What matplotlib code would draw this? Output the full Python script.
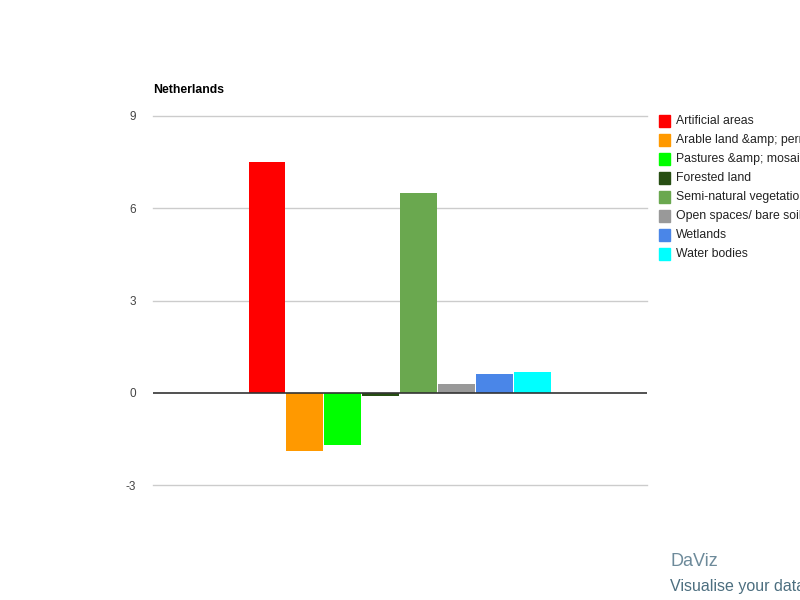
import matplotlib
matplotlib.use("Agg")
import matplotlib.pyplot as plt
from matplotlib.patches import Rectangle

plt.rcParams['font.family'] = ['Liberation Sans', 'DejaVu Sans']

title = "Netherlands"
categories = ["Artificial areas", "Arable land &amp; permanent crops",
              "Pastures &amp; mosaics", "Forested land",
              "Semi-natural vegetation", "Open spaces/ bare soils",
              "Wetlands", "Water bodies"]
values = [7.5, -1.88, -1.7, -0.1, 6.49, 0.29, 0.6, 0.68]
colors = ["#ff0000", "#ff9900", "#00ff00", "#274e13",
          "#6aa84f", "#999999", "#4a86e8", "#00ffff"]
yticks = [-3, 0, 3, 6, 9]

fig = plt.figure(figsize=(8, 6), dpi=100)
ax = fig.add_axes([153/800, 1-485/600, 494/800, 369/600])

n = len(values)
bw = 303 / 8 / 494
start = 0.5 - n * bw / 2
for i, (v, c) in enumerate(zip(values, colors)):
    ax.bar(start + i * bw, v, width=bw * 0.975, align='edge', color=c, zorder=3)

ax.set_xlim(0, 1)
ax.set_ylim(-3, 9)
ax.set_yticks(yticks)
ax.set_yticklabels([str(t) for t in yticks], fontsize=8.5, color="#444444")
ax.set_xticks([])
for s in ax.spines.values():
    s.set_visible(False)
ax.tick_params(axis='y', length=0, pad=12)
for t in yticks:
    if t != 0:
        ax.axhline(t, color="#cccccc", linewidth=1, zorder=0, clip_on=False)
ax.axhline(0, color="#333333", linewidth=1.2, zorder=4)

fig.text(153/800, 1-90/600, title, fontsize=8.8, fontweight='bold',
         va='center', ha='left', color="#000000")

# legend
for i, (lab, c) in enumerate(zip(categories, colors)):
    y = 121 + i * 19
    fig.patches.append(Rectangle((659/800, 1-(y+6)/600), 11/800, 12/600,
                                 transform=fig.transFigure, color=c))
    fig.text(676/800, 1-y/600, lab, fontsize=8.85, va='center', ha='left',
             color="#222222")

# DaViz logo text
fig.text(670/800, 1-561/600, "DaViz", fontsize=13, color="#6d8a9a",
         va='center', ha='left')
fig.text(670/800, 1-586/600, "Visualise your data", fontsize=11.5,
         color="#4d6f80", va='center', ha='left')

fig.savefig("out.png", dpi=100)
